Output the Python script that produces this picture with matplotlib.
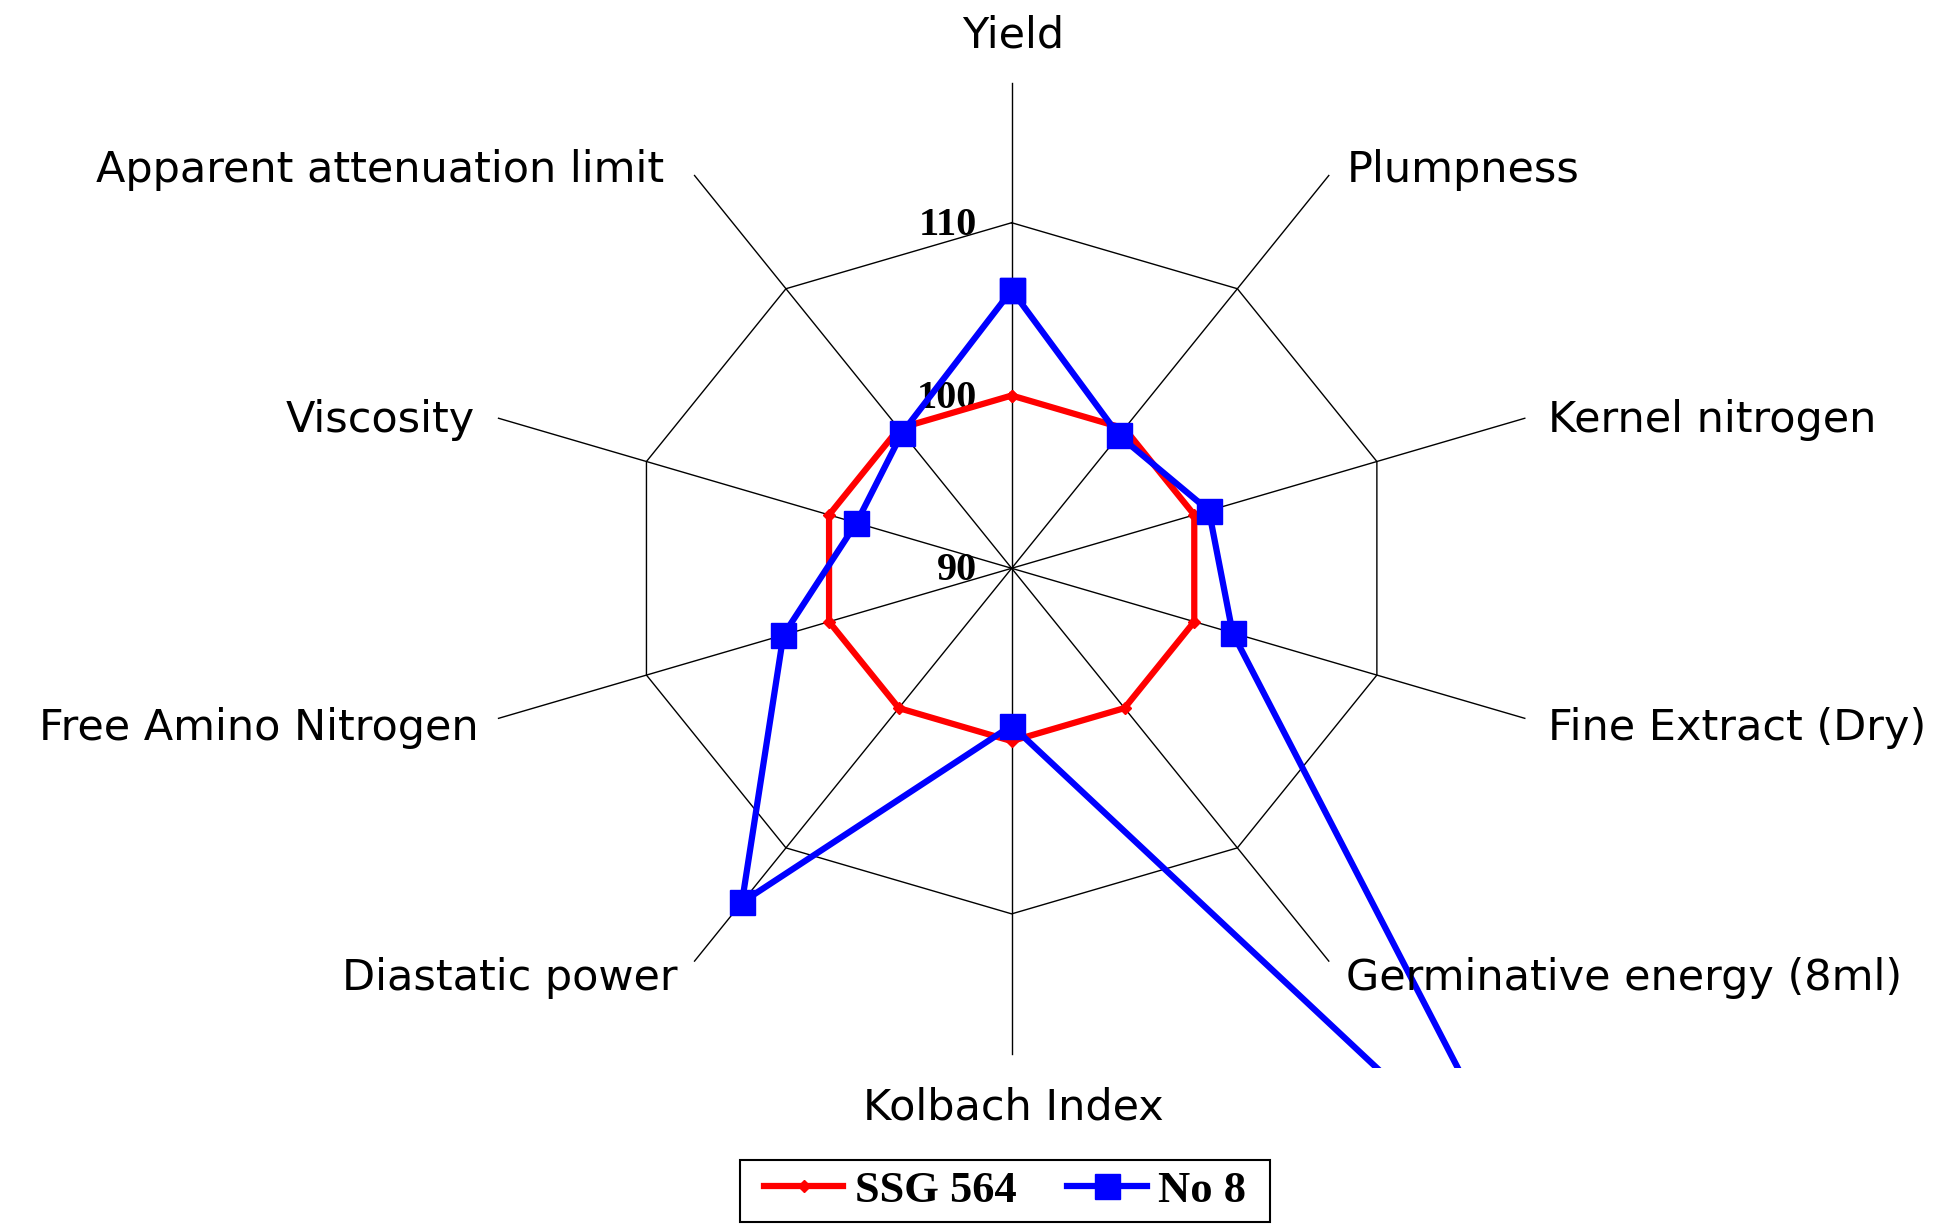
import numpy as np
import matplotlib.pyplot as plt
from matplotlib.patches import Rectangle

# malting quality profile, relative values (SSG 564 = 100)
categories = ["Yield", "Plumpness", "Kernel nitrogen", "Fine Extract (Dry)",
              "Germinative energy (8ml)", "Kolbach Index", "Diastatic power",
              "Free Amino Nitrogen", "Viscosity", "Apparent attenuation limit"]
ssg_564 = [100.0, 100.0, 100.0, 100.0, 100.0, 100.0, 100.0, 100.0, 100.0, 100.0]
no_8 = [106.1, 99.5, 100.8, 102.1, 136.3, 99.1, 113.9, 102.5, 98.5, 99.7]
ring_ticks = [90, 100, 110]

r_min = 90
spoke_end = 118.1

W, H = 1940, 1224
fig = plt.figure(figsize=(W / 100, H / 100), dpi=100)
ax = fig.add_axes([0, 156 / H, 1, 1068 / H])
ax.set_xlim(-52.69, 48.35)
ax.set_ylim(-28.92, 32.89)
ax.axis("off")

n = len(categories)
theta = np.arange(n) * 2 * np.pi / n


def to_xy(vals):
    r = np.asarray(vals, dtype=float) - r_min
    x = r * np.sin(theta)
    y = r * np.cos(theta)
    return np.append(x, x[0]), np.append(y, y[0])


# spokes + outer ring
for t in theta:
    ax.plot([0, (spoke_end - r_min) * np.sin(t)], [0, (spoke_end - r_min) * np.cos(t)],
            color="black", lw=1.0, zorder=1)
ax.plot(*to_xy([ring_ticks[-1]] * n), color="black", lw=1.0, zorder=1)

for v in ring_ticks:
    ax.text(-1.82, v - r_min - 0.7, str(v), ha="right", va="baseline",
            fontfamily="Liberation Serif", fontweight="bold", fontsize=29)

l1, = ax.plot(*to_xy(ssg_564), color="red", lw=4.5, marker="D", ms=6,
              label="SSG 564", zorder=3)
l2, = ax.plot(*to_xy(no_8), color="blue", lw=4.5, marker="s", ms=18,
              label="No 8", zorder=4)

# category labels (pixel positions, from top-left)
label_pos = [(1013, 47, "center"), (1347, 182, "left"), (1548, 432, "left"),
             (1548, 740, "left"), (1346, 990, "left"), (1013, 1120, "center"),
             (678, 990, "right"), (479, 740, "right"), (475, 432, "right"),
             (664, 182, "right")]
for name, (px, py, ha) in zip(categories, label_pos):
    fig.text(px / W, 1 - py / H, name, ha=ha, va="baseline",
             fontsize=31, family="DejaVu Sans")

fig.legend(handles=[l1, l2], loc="center", bbox_to_anchor=(1005 / W, 1 - 1191 / H),
           ncol=2, frameon=False, numpoints=1,
           prop={"family": "Liberation Serif", "weight": "bold", "size": 32},
           handlelength=1.78, handletextpad=0.25, columnspacing=1.15)
fig.add_artist(Rectangle((740 / W, 1 - 1222 / H), 530 / W, 62 / H,
                         transform=fig.transFigure, fill=False,
                         edgecolor="black", lw=1.5))

fig.savefig("out.png", dpi=100)
